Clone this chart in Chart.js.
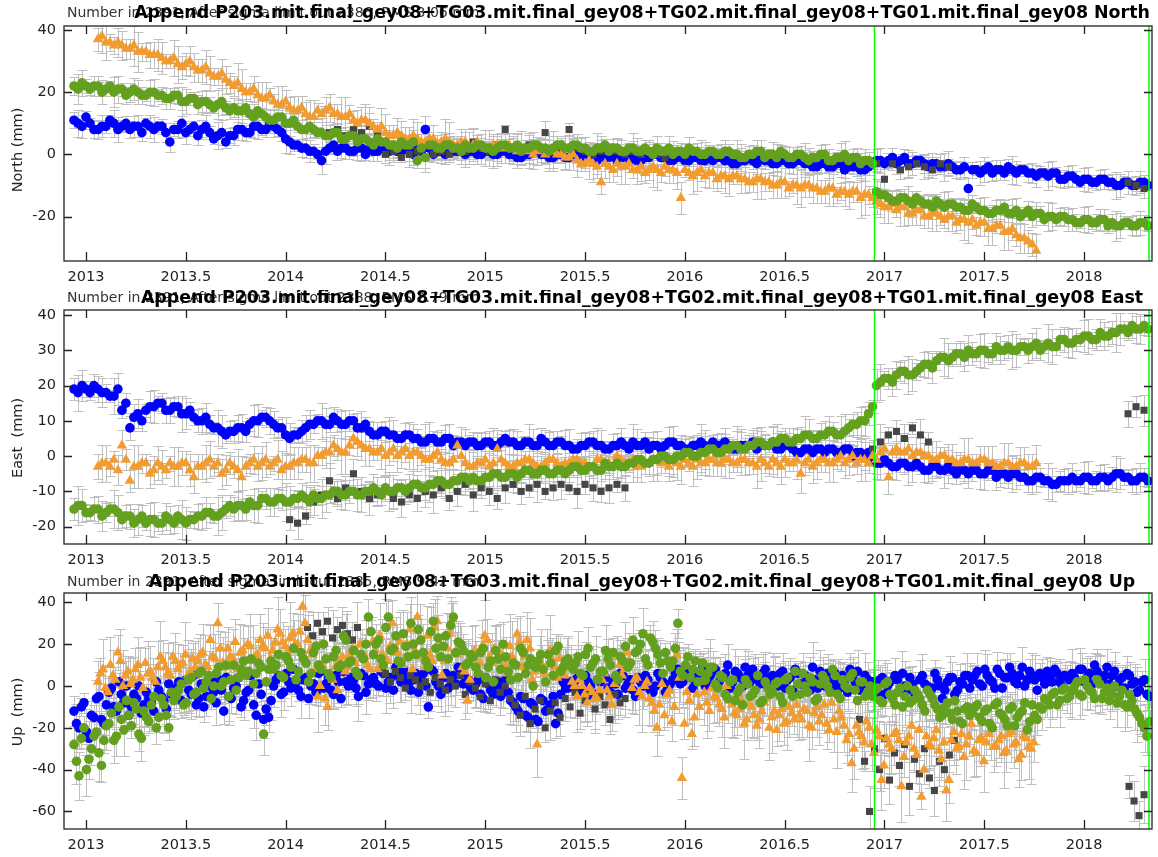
<!DOCTYPE html>
<html>
<head>
<meta charset="utf-8">
<script src="https://cdn.jsdelivr.net/npm/chart.js@4.4.1/dist/chart.umd.min.js"></script>
<style>
  body { margin: 0; background: #fff; width: 1158px; height: 857px; overflow: hidden; position: relative; }
  canvas { position: absolute; left: 0; }
</style>
</head>
<body>
<canvas id="cNorth" width="1158" height="290" style="top:0px"></canvas>
<canvas id="cEast" width="1158" height="283" style="top:290px"></canvas>
<canvas id="cUp" width="1158" height="284" style="top:573px"></canvas>
<script>
// ── 共通の軸・時刻 ─────────────────────────────────────
const xTicks = [2013, 2013.5, 2014, 2014.5, 2015, 2015.5, 2016, 2016.5, 2017, 2017.5, 2018];
const xMin = 2012.89, xMax = 2018.34;
const breakEpochs = [2016.95, 2018.325];
const stepNE = 0.04;    // North / East sampling (yr); 2nd set offset by half a step
const stepUp = 0.025;   // Up sampling (yr); 2nd set offset by half a step
const blueStart = 2012.94, greenStart = 2012.94, orangeStart = 2013.06;

const northTicks = [-20, 0, 20, 40];
const eastTicks = [-20, -10, 0, 10, 20, 30, 40];
const upTicks = [-60, -40, -20, 0, 20, 40];

// ── North (mm) ────────────────────────────────────────
const northBlue = [
  11, 9, 10, 8, 9, 10, 9, 8, 9, 10, 8, 9, 4, 8, 7, 9, 8, 7, 6, 4,
  6, 8, 7, 9, 8, 9, 7, 4, 3, 2, 1, -2, 2, 1, 2, 1, 2, 2, 1, 2,
  2, 1, 1, 2, 8, 0, 1, 2, 1, 0, 1, 0, 1, 0, 1, 0, -1, 0, 1, 0,
  -1, 0, -1, 0, -1, -1, 0, -1, -2, -1, -1, -2, -1, 0, -1, -2, -1, -2, -1, -2,
  -2, -1, -2, -3, -2, -2, -1, -2, -3, -2, -3, -2, -3, -4, -3, -4, -3, -4, -4, -5,
  -3, -2, -2, -3, -1, -3, -2, -4, -3, -4, -4, -5, -11, -5, -5, -6, -5, -4, -6, -5,
  -6, -6, -7, -6, -8, -7, -9, -8, -9, -8, -9, -10, -9, -10, -9
];
const northBlueB = [
  10, 12, 8, 9, 11, 8, 10, 9, 7, 9, 9, 7, 8, 10, 8, 6, 9, 5, 7, 6,
  8, 7, 9, 8, 10, 8, 5, 3, 2, 1, 0, 1, 3, 2, 1, 2, 0, 1, 2, 1,
  1, 2, 0, 1, 2, 1, 0, 1, 2, 1, 0, 1, 0, 1, 0, -1, 0, 1, 0, -1,
  0, -1, 0, -1, 0, -2, -1, 0, -1, -2, -2, -1, 0, -1, -2, -1, -2, -1, -2, -1,
  -1, -2, -3, -2, -1, -3, -2, -3, -2, -3, -2, -3, -4, -3, -4, -3, -5, -4, -5, -4,
  -2, -3, -1, -2, -3, -2, -3, -3, -4, -3, -5, -4, -5, -6, -4, -5, -6, -5, -5, -6,
  -7, -6, -6, -8, -7, -8, -8, -9, -8, -9, -10, -9, -10, -9, -10
];
const northGreen = [
  22, 23, 21, 22, 21, 20, 21, 20, 20, 19, 20, 19, 18, 19, 17, 18, 17, 16, 16, 15,
  15, 14, 13, 14, 12, 11, 12, 10, 9, 8, 8, 7, 6, 7, 5, 6, 5, 4, 5, 4,
  3, 4, 3, -2, -1, 3, 2, 3, 2, 3, 2, 3, 2, 2, 3, 2, 1, 2, 3, 2,
  2, 3, 2, 3, 2, 1, 2, 1, 2, 1, 2, 1, 1, 2, 1, 0, 1, 2, 1, 0,
  1, 0, 1, 0, -1, 0, 1, 0, -1, 0, -1, 0, -2, -1, 0, -2, -1, -2, -1, -2,
  -3, -13, -14, -15, -14, -16, -15, -16, -15, -17, -16, -17, -18, -17, -18, -19, -18, -19, -18, -19,
  -20, -19, -20, -21, -20, -21, -22, -21, -22, -21, -22, -23, -22, -23, -22
];
const northGreenB = [
  21, 22, 22, 20, 22, 21, 19, 21, 19, 20, 19, 18, 19, 17, 18, 16, 17, 15, 17, 14,
  14, 15, 12, 13, 11, 12, 10, 11, 8, 9, 7, 6, 7, 5, 6, 4, 5, 3, 4, 3,
  2, 3, 4, 2, 3, 2, 3, 2, 1, 2, 3, 2, 1, 3, 2, 3, 2, 3, 2, 1,
  3, 2, 3, 2, 1, 2, 3, 2, 1, 2, 1, 2, 0, 1, 2, 1, 0, 1, 0, 1,
  0, 1, 0, -1, 0, 1, -1, 0, 1, -1, 0, -1, -1, 0, -2, -1, 0, -1, -3, -2,
  -12, -13, -15, -14, -15, -14, -16, -17, -16, -16, -17, -18, -16, -18, -19, -18, -17, -19, -20, -18,
  -19, -21, -20, -20, -21, -22, -21, -22, -21, -23, -23, -22, -23, -22, -23
];
const northOrange = [
  37, 36, 35, 35, 34, 33, 33, 32, 31, 30, 29, 29, 28, 27, 26, 25, 24, 22, 21, 20,
  19, 18, 17, 16, 15, 14, 13, 12, 13, 15, 13, 12, 11, 11, 10, 8, 7, 6, 6, 5,
  5, 4, 5, 4, 4, 3, 4, 3, 3, 2, 3, 2, 2, 2, 1, 1, 0, 1, 0, -1,
  -2, -3, -3, -9, -4, -3, -4, -5, -4, -5, -5, -4, -5, -14, -6, -6, -7, -6, -7, -8,
  -7, -8, -9, -8, -9, -10, -9, -10, -11, -10, -11, -12, -11, -12, -13, -12, -13, -14, -16, -17,
  -18, -17, -19, -18, -20, -19, -21, -20, -21, -22, -23, -22, -24, -23, -25, -26, -27, -29
];
const northOrangeB = [
  38, 36, 36, 34, 35, 33, 32, 32, 30, 31, 28, 30, 27, 28, 25, 26, 23, 23, 20, 21,
  18, 19, 16, 17, 14, 15, 12, 14, 14, 13, 12, 13, 10, 11, 9, 9, 6, 7, 5, 6,
  4, 5, 3, 5, 3, 4, 2, 4, 2, 3, 2, 3, 1, 2, 0, 2, 1, 0, -1, 0,
  -3, -2, -4, -3, -5, -4, -3, -5, -6, -4, -6, -5, -6, -5, -7, -5, -6, -8, -7, -7,
  -8, -9, -8, -9, -10, -9, -11, -10, -10, -11, -12, -11, -13, -12, -12, -14, -13, -15, -17, -16,
  -17, -19, -18, -20, -19, -20, -20, -22, -21, -21, -22, -24, -23, -25, -24, -27, -28, -31
];
const northGray = [
  [2014.22, [7, 8, 6, 8, 7, 9, 6, 0, 1, -1, 0, 1, -1, 0, 1, 0,
             2, 1, 4, 2, 1, 3, 8, 2, 1, 3, 2, 7, 1, 2, 8, 2, 1, 0, 1, 2, 1, 0, 1, 0, 1, 0, -1]],
  [2016.96, [-3, -8, -3, -5, -4, -3, -4, -5, -3, -4]],
  [2018.22, [-9, -10, -11]]
];

// ── East (mm) ─────────────────────────────────────────
const eastBlue = [
  19, 20, 18, 19, 18, 17, 13, 8, 12, 13, 14, 15, 13, 14, 12, 11, 10, 9, 8, 6,
  7, 8, 9, 10, 11, 9, 8, 5, 6, 8, 9, 10, 9, 10, 9, 10, 8, 7, 6, 7,
  6, 5, 6, 5, 4, 5, 4, 5, 4, 3, 4, 3, 4, 3, 5, 4, 3, 4, 3, 4,
  3, 4, 3, 2, 3, 4, 3, 2, 3, 3, 4, 3, 2, 3, 3, 4, 3, 2, 3, 3,
  4, 3, 3, 2, 3, 4, 3, 3, 2, 3, 2, 1, 2, 2, 1, 2, 1, 2, 1, 0,
  -1, -2, -2, -3, -2, -3, -3, -4, -3, -4, -4, -3, -5, -4, -5, -4, -5, -6, -5, -6,
  -7, -6, -7, -8, -7, -6, -7, -6, -7, -6, -6, -5, -6, -7, -6
];
const eastBlueB = [
  18, 19, 20, 18, 17, 19, 15, 11, 10, 14, 15, 13, 14, 12, 13, 10, 11, 8, 7, 7,
  8, 7, 10, 11, 10, 8, 6, 6, 7, 9, 10, 9, 11, 9, 10, 8, 9, 6, 7, 6,
  5, 6, 5, 4, 5, 4, 5, 3, 4, 4, 3, 4, 3, 4, 4, 3, 4, 3, 5, 3,
  4, 3, 2, 3, 4, 3, 2, 3, 4, 2, 3, 4, 3, 2, 4, 3, 2, 3, 4, 2,
  3, 4, 2, 3, 3, 2, 3, 4, 2, 3, 1, 2, 1, 2, 2, 1, 2, 0, 1, 1,
  -2, -1, -3, -2, -3, -2, -4, -3, -4, -3, -5, -4, -4, -5, -4, -6, -5, -5, -6, -7,
  -6, -7, -8, -7, -7, -7, -6, -7, -6, -7, -5, -6, -7, -6, -7
];
const eastGreen = [
  -15, -14, -16, -15, -16, -15, -18, -17, -18, -19, -18, -19, -18, -17, -19, -18, -17, -16, -17, -15,
  -15, -14, -13, -14, -12, -13, -12, -13, -12, -12, -11, -12, -11, -10, -11, -10, -11, -10, -10, -9,
  -10, -9, -9, -8, -9, -8, -7, -8, -7, -6, -6, -7, -6, -5, -6, -5, -5, -4, -5, -4,
  -5, -4, -4, -3, -4, -3, -4, -3, -2, -3, -2, -1, -2, -1, 0, -1, 0, 1, 0, 1,
  2, 1, 2, 3, 2, 3, 4, 3, 4, 5, 4, 5, 6, 5, 6, 7, 6, 8, 9, 10,
  14, 21, 22, 23, 24, 23, 25, 26, 27, 28, 28, 29, 30, 29, 30, 29, 30, 31, 30, 31,
  31, 30, 32, 31, 33, 32, 33, 34, 33, 34, 35, 36, 35, 36, 37
];
const eastGreenB = [
  -14, -16, -15, -17, -15, -16, -17, -19, -17, -18, -19, -17, -19, -18, -18, -17, -16, -17, -16, -14,
  -14, -15, -14, -12, -13, -12, -13, -12, -11, -13, -12, -11, -10, -11, -10, -11, -10, -9, -11, -10,
  -9, -10, -8, -9, -8, -7, -8, -7, -6, -7, -7, -6, -5, -6, -5, -6, -4, -5, -4, -5,
  -4, -5, -3, -4, -3, -4, -2, -3, -3, -2, -1, -2, -1, 0, -1, 0, 1, 0, 1, 2,
  1, 2, 3, 2, 3, 4, 3, 4, 5, 4, 5, 6, 5, 6, 7, 6, 7, 9, 10, 12,
  20, 22, 21, 24, 23, 24, 26, 25, 28, 27, 29, 28, 29, 30, 29, 31, 30, 30, 31, 30,
  32, 31, 31, 33, 32, 33, 34, 33, 35, 34, 35, 36, 37, 36, 36
];
const eastOrange = [
  -3, -2, -1, 3, -7, -3, -2, -4, -3, -2, -3, -2, -6, -3, -1, -2, -4, -3, -6, -2,
  -3, -1, -2, -4, -3, -2, -1, -2, 0, 1, 2, 1, 5, 3, 2, 1, 0, 2, 1, 0,
  1, -1, 0, -1, -2, 3, -2, -3, -2, -3, 2, -2, -3, -2, -1, -3, -2, -1, -3, -2,
  -1, -2, -3, -1, -2, 0, -2, -1, -3, -2, -1, -2, -1, -3, -2, -1, -2, -1, -2, -1,
  -2, -1, -2, -1, -3, -2, -1, -2, -5, -1, -2, -1, -2, 0, -1, -2, -1, 0, 1, -6,
  2, 1, 0, 1, 0, -1, 0, -1, -2, -1, -2, -1, -2, -3, -2, -3, -2, -3
];
const eastOrangeB = [
  -2, -3, -4, -1, -3, -2, -5, -2, -4, -3, -2, -4, -3, -2, -3, -5, -2, -4, -3, -1,
  -2, -3, -1, -3, -2, -1, -2, 0, 1, 3, 1, 3, 4, 2, 1, 2, 1, 0, 2, 1,
  0, -1, 1, -2, -1, 0, -3, -2, -1, -2, -1, -3, -2, -1, -2, -3, -1, -2, -2, -1,
  -2, -3, -1, -2, -3, -1, -2, -3, -2, -1, -2, -3, -2, -1, -3, -2, -1, -2, -1, -2,
  -1, -2, -3, -2, -1, -3, -2, -1, -2, -3, -1, -2, -1, -2, 0, -1, -2, -1, 2, 1,
  1, 2, 1, 0, -1, 0, -1, -2, -1, -2, -1, -2, -3, -2, -3, -2, -3, -2
];
const eastGray = [
  [2014.02, [-18, -19, -17, -13, -11, -7, -12, -9, -5, -10,
             -12, -11, -9, -12, -13, -11, -12, -10, -11, -9,
             -12, -10, -8, -11, -9, -10, -12, -9, -8, -10,
             -9, -8, -10, -9, -8, -9, -10, -8, -9, -10,
             -9, -8, -9]],
  [2016.94, [2, 4, 6, 7, 5, 8, 6, 4]],
  [2018.22, [12, 14, 13]]
];

// ── Up (mm) ───────────────────────────────────────────
const upBlue = [
  -12, -20, -8, -25, -15, -5, -18, -3, -10, 2, -8, -14, -4, 0, -9, -6, -12, -2, -7, 1,
  -4, 2, -8, -2, 5, -6, -10, 0, -3, 3, -12, -5, -1, 4, -7, -2, -9, 1, -16, -15,
  0, 5, -3, 2, 8, -2, 3, -6, 1, 6, -1, 4, -4, 2, 7, 0, 3, -5, 5, 1,
  4, 0, 6, 2, -2, 5, 8, 1, 3, -3, 6, -10, 7, 0, 4, -1, 5, 9, 1, 3,
  -2, 3, -6, 1, -4, 2, -1, -3, -8, -12, -6, -15, -9, -17, -7, -11, -5, -13, 2, -1,
  0, 4, -3, 2, -5, 3, 6, -1, 2, -4, 5, 1, -2, 4, 0, 3, -3, 6, 2, -1,
  3, 8, 2, 6, -1, 5, 9, 3, 7, 1, 4, 10, 2, 6, 0, 5, 8, 3, 6, 2,
  5, 0, 7, 3, -2, 6, 1, 4, 9, -1, 3, 6, 0, 2, 5, -3, 4, 7, 1, 3,
  2, -3, 4, 0, -5, 3, 6, -2, 1, -4, 5, 0, -1, 3, -6, 2, 4, -2, 1, 5,
  3, 7, 0, 5, 2, 8, -1, 4, 6, 1, 9, 3, 5, -2, 4, 7, 2, 6, 0, 4,
  6, 2, 8, 4, 1, 7, 3, 9, 5, 0, 4, 6, 1, -3, 2, -4
];
const upBlueB = [
  -18, -10, -22, -14, -6, -16, -9, -1, -12, -4, 0, -10, -6, -13, -3, -8, 2, -5, -11, -4,
  -1, -7, 3, -4, -9, 1, -5, 2, -8, -2, 4, -6, 0, -10, -3, 5, -14, -4, -11, -7,
  3, -4, 6, -1, 2, -5, 4, 0, -3, 7, 1, -2, 5, -6, 2, 4, -1, 6, -3, 3,
  1, 7, -1, 4, 9, 2, 5, -2, 6, 3, 0, 8, 2, -4, 6, 3, 1, 7, 4, -1,
  1, -4, 4, -2, 0, -5, 3, -7, -10, -5, -14, -8, -16, -6, -12, -9, -18, -4, -1, 2,
  3, -2, 5, 0, -4, 2, 4, -3, 1, 6, -1, 3, -5, 2, 5, -2, 0, 4, -3, 1,
  6, 1, 9, 4, 2, 7, 0, 5, 8, 3, 6, -1, 7, 4, 9, 2, 5, 1, 8, 4,
  2, 6, -1, 4, 8, 1, 5, -2, 3, 7, 0, 4, 6, -1, 3, 8, 2, -2, 5, 1,
  -1, 3, -4, 2, 5, -2, 0, 4, -5, 3, 1, -3, 6, 0, -2, 4, -4, 2, 5, -1,
  5, 1, 8, 3, -1, 6, 4, 9, 2, 5, 0, 7, 3, 6, 1, 4, 8, 2, 5, 3,
  4, 8, 2, 6, 10, 3, 5, 1, 7, 3, -1, 5, 2, -2, 3, -5
];
const upGreen = [
  -28, -43, -20, -35, -24, -32, -26, -18, -26, -10, -21, -14, -8, -23, -12, -17, -5, -15, -9, -20,
  -7, -2, -9, 3, -4, 6, -1, 5, 0, 9, 2, -5, 10, 4, 12, 7, 1, 11, -23, 8,
  8, 15, 4, 12, 18, 7, 13, 2, 16, 10, 20, 6, 14, 9, 24, 11, 17, 5, 13, 33,
  15, 22, 10, 33, 18, 12, 25, 14, 20, 27, 16, 9, 31, 23, 19, 13, 33, 21, 17, 11,
  14, 6, 18, 9, 2, 13, 20, 7, 11, 4, 16, 10, 0, 12, 8, 15, 5, 19, 9, 13,
  8, 14, 5, 18, 11, 3, 7, 13, 16, 3, 12, 9, 22, 17, 25, 10, 21, 15, 6, 12,
  12, 30, 5, 14, 8, 2, 11, 6, 9, -1, 4, -6, 3, -3, -9, 1, -4, 5, -7, -1,
  -3, 2, -8, 4, -5, 1, 6, -3, 2, -6, 5, 0, 8, -4, 3, -1, 6, -7, 2, -3,
  -5, -1, -8, 2, -6, -3, -10, 0, -7, -4, -9, -2, -6, -11, -14, -8, -16, -12, -18, -10,
  -13, -9, -17, -11, -20, -8, -14, -19, -10, -15, -12, -21, -9, -16, -11, -7, -4, -9, -2, -6,
  -2, 2, -5, 0, -3, 3, -6, -1, -4, -8, -2, -10, -7, -13, -18, -24
];
const upGreenB = [
  -36, -25, -40, -30, -22, -38, -19, -13, -24, -16, -7, -19, -11, -25, -15, -9, -20, -6, -14, -3,
  -5, 1, -8, 4, -3, 7, 2, -6, 6, 0, 10, 3, -2, 8, 5, 13, 6, 9, 2, 12,
  10, 5, 14, 9, 3, 16, 11, 6, 19, 8, 13, 4, 17, 10, 22, 12, 7, 15, 20, 26,
  20, 13, 28, 17, 24, 11, 19, 30, 15, 22, 12, 26, 18, 14, 24, 29, 16, 20, 10, 15,
  9, 16, 4, 12, 17, 8, 14, 3, 10, 18, 6, 13, 9, 15, 2, 11, 17, 7, 12, 10,
  11, 6, 15, 9, 13, 7, 17, 10, 5, 14, 19, 11, 16, 20, 13, 23, 18, 11, 16, 9,
  18, 7, 10, 4, 12, 7, 3, 9, 1, 5, -4, 2, -7, -1, 3, -5, -2, -8, 2, -4,
  1, -5, 3, -2, 7, -4, 0, 4, -7, 1, 3, -3, 5, -6, 0, 4, -2, 2, -5, 0,
  -2, -7, 1, -4, -9, -1, -5, -8, -2, -6, -12, -4, -9, -15, -10, -13, -7, -17, -11, -14,
  -10, -15, -12, -18, -9, -13, -16, -11, -19, -13, -8, -17, -14, -10, -6, -9, -3, -7, -1, -5,
  0, -4, 3, -2, -6, 1, -3, -7, 0, -5, -9, -4, -11, -15, -20, -17
];
const upOrange = [
  2, 8, -3, 5, 16, 0, 7, 3, 10, -1, 6, 4, 9, 12, 6, 14, 8, 11, 5, 13,
  12, 16, 9, 14, 30, 11, 18, 13, 8, 17, 20, 12, 15, 19, 24, 17, 27, 21, 16, 25,
  20, 38, 22, 15, -5, 10, -10, 3, -2, 14, 9, 18, 6, 13, 10, 21, 8, 15, 12, 30,
  16, 10, 20, 8, 33, 14, 24, 12, 31, 5, 18, 32, 15, 9, -7, 13, 6, 19, 22, 11,
  12, 8, 6, 14, 25, 9, 22, 3, -28, 10, 15, 13, 4, 8, 11, 2, -5, 0, -8, -3,
  -6, 3, -2, -9, 14, 5, 16, -1, 4, -5, 2, -8, -20, 1, -4, -17, 15, -44, -3, -23,
  -4, 2, -8, -1, -6, -11, 0, -9, -14, -7, -16, -10, -19, -12, -6, -15, -21, -11, -17, -13,
  -9, -16, -12, -20, -10, -14, -18, -8, -22, -15, -26, -37, -19, -24, -17, -28, -21, -45, -25, -30,
  -22, -48, -27, -19, -33, -53, -24, -29, -21, -35, -50, -26, -30, -23, -28, -18, -32, -25, -27, -20,
  -29, -24, -31, -22, -27, -33, -25, -30
];
const upOrangeB = [
  6, -1, 10, 3, 12, 5, 1, 8, 4, 11, 7, 2, 14, 9, 5, 12, 10, 15, 7, 9,
  15, 10, 22, 13, 18, 9, 14, 21, 16, 12, 19, 14, 22, 18, 13, 21, 25, 19, 23, 20,
  26, 30, 17, 8, 0, -6, 5, 9, 12, 7, 15, 11, 20, 14, 8, 17, 24, 13, 19, 16,
  21, 13, 27, 17, 22, 9, 15, 28, 19, 12, 25, 16, 20, 7, 3, 17, 11, 24, 14, 18,
  16, 10, 19, 11, 21, 14, 18, 7, 12, 6, 17, 9, 13, 5, 9, 0, 3, -4, -1, -6,
  -2, 6, -5, 1, 10, 8, 12, 3, -3, 0, -6, -12, -9, -14, -2, -10, 4, -18, -7, -15,
  -10, -3, -12, -5, -9, -15, -7, -13, -11, -18, -9, -14, -16, -8, -20, -12, -14, -18, -10, -16,
  -14, -11, -19, -13, -17, -9, -21, -16, -12, -19, -23, -30, -22, -27, -20, -32, -24, -38, -28, -23,
  -26, -34, -24, -30, -21, -40, -28, -25, -31, -27, -45, -22, -29, -34, -24, -31, -26, -36, -23, -29,
  -26, -32, -23, -28, -35, -24, -29, -27
];
const upGray = [
  [2014.11, [28, 24, 30, 26, 31, 23, 27, 29, 25, 22, 28]],
  [2014.50, [6, 2, 7, 4, -1, 5, 3, 0, 2, -3, 4, 1, -2, 3, 0, 5, -4, 2, -1,
             -5, 1, -7, 3, -3, 0, -6, -9, -14, -5, -18, -11, -7, -20, -12, -8, -15,
             -6, -10, -3, -13, -7, -2, -11, -5, -9, -16, -4, -8, -6]],
  [2016.875, [-16, -36, -60, -30, -40, -25, -45, -32, -38, -28, -48, -35, -42, -30, -44, -50, -36, -40, -33, -26]],
  [2018.225, [-48, -55, -62, -52]]
];

// 誤差 (1σ, mm)  blue, gray, orange, green
const northSigma = [2.6, 2.6, 3.8, 2.8];
const eastSigma = [3, 3, 3.6, 3.2];
const upSigma = [7, 8, 10, 8];
// 1点ごとの誤差のばらつき (倍率, 順に繰り返す)
const errSpread = [1.0, 1.45, 0.7, 1.2, 0.85, 1.7, 0.75, 1.1, 1.35, 0.6, 1.55, 0.95, 1.25];

// ── 表示設定 ──────────────────────────────────────────
const titleBase = 'Append P203.mit.final_gey08+TG03.mit.final_gey08+TG02.mit.final_gey08+TG01.mit.final_gey08 ';
const FONT = '"DejaVu Sans", "Liberation Sans", sans-serif';
const colors = { blue: '#0000ff', gray: '#464646', orange: '#f29b2f', green: '#63a01e', err: '#bfbfbf' };

const panels = [
  { id: 'cNorth', comp: 'North', yLabel: 'North (mm)', note: 'Number in 2391, After sigma limit out 2386, RMS 3.06 mm',
    min: -34.3, max: 41.3, ticks: northTicks, step: stepNE,
    blue: [northBlue, northBlueB], gray: northGray, orange: [northOrange, northOrangeB], green: [northGreen, northGreenB],
    sigma: northSigma, padTop: 26, axisH: 29, titleY: 13, yLabelY: 150 },
  { id: 'cEast', comp: 'East', yLabel: 'East  (mm)', note: 'Number in 2391, After sigma limit out 2388, RMS 2.79 mm',
    min: -24.9, max: 41.4, ticks: eastTicks, step: stepNE,
    blue: [eastBlue, eastBlueB], gray: eastGray, orange: [eastOrange, eastOrangeB], green: [eastGreen, eastGreenB],
    sigma: eastSigma, padTop: 20, axisH: 29, titleY: 8, yLabelY: 148 },
  { id: 'cUp', comp: 'Up', yLabel: 'Up  (mm)', note: 'Number in 2391, After sigma limit out 2385, RMS 9.42 mm',
    min: -68.4, max: 44.5, ticks: upTicks, step: stepUp,
    blue: [upBlue, upBlueB], gray: upGray, orange: [upOrange, upOrangeB], green: [upGreen, upGreenB],
    sigma: upSigma, padTop: 20, axisH: 28, titleY: 9, yLabelY: 139 },
];

function toPoints(start, step, vals) {
  return vals.map((v, i) => ({ x: start + i * step, y: v }));
}
// 2組目は半ステップずらして並べる
function seriesPoints(start, step, sets) {
  return sets.flatMap((vals, k) => toPoints(start + k * step / 2, step, vals));
}
function segPoints(segs, step) {
  return segs.flatMap(([start, vals]) => toPoints(start, step, vals));
}

// タイトル幅を原図に合わせる
const measureCtx = document.createElement('canvas').getContext('2d');
measureCtx.font = 'bold 100px ' + FONT;
const titleSize = 100 * 1016 / measureCtx.measureText(titleBase + 'North').width;

// ── プラグイン: 誤差棒・枠・内向き目盛・タイトル ──────
const framePlugin = {
  id: 'frame',
  beforeDatasetsDraw(chart) {
    const { ctx, chartArea: a, scales: { x, y } } = chart;
    ctx.save();
    ctx.beginPath();
    ctx.rect(a.left, a.top, a.right - a.left, a.bottom - a.top);
    ctx.clip();
    ctx.strokeStyle = colors.err;
    ctx.lineWidth = 1;
    chart.data.datasets.forEach(ds => {
      ctx.beginPath();
      ds.data.forEach((p, i) => {
        const s = ds.sigma * errSpread[i % errSpread.length];
        const px = Math.round(x.getPixelForValue(p.x)) + 0.5;
        const y1 = Math.round(y.getPixelForValue(p.y + s)) + 0.5;
        const y2 = Math.round(y.getPixelForValue(p.y - s)) + 0.5;
        ctx.moveTo(px, y1); ctx.lineTo(px, y2);
        ctx.moveTo(px - 5, y1); ctx.lineTo(px + 5, y1);
        ctx.moveTo(px - 5, y2); ctx.lineTo(px + 5, y2);
      });
      ctx.stroke();
    });
    ctx.restore();
  },
  afterDatasetsDraw(chart) {
    const { ctx, chartArea: a, scales: { x, y } } = chart;
    const p = chart.options.plugins.frame;
    ctx.save();
    // 変化点
    ctx.strokeStyle = '#00ff00';
    ctx.lineWidth = 1.5;
    breakEpochs.forEach(t => {
      const px = x.getPixelForValue(t);
      ctx.beginPath(); ctx.moveTo(px, a.top); ctx.lineTo(px, a.bottom); ctx.stroke();
    });
    // 枠と目盛
    ctx.strokeStyle = '#222';
    ctx.lineWidth = 1.3;
    ctx.strokeRect(a.left, a.top, a.right - a.left, a.bottom - a.top);
    ctx.beginPath();
    xTicks.forEach(t => {
      const px = Math.round(x.getPixelForValue(t)) + 0.5;
      ctx.moveTo(px, a.bottom); ctx.lineTo(px, a.bottom - 9);
      ctx.moveTo(px, a.top); ctx.lineTo(px, a.top + 8);
    });
    p.yTicks.forEach(t => {
      const py = Math.round(y.getPixelForValue(t)) + 0.5;
      ctx.moveTo(a.left, py); ctx.lineTo(a.left + 8, py);
      ctx.moveTo(a.right, py); ctx.lineTo(a.right - 8, py);
    });
    ctx.stroke();
    ctx.restore();
  },
  afterDraw(chart) {
    const { ctx } = chart;
    const p = chart.options.plugins.frame;
    ctx.save();
    ctx.textBaseline = 'middle';
    ctx.textAlign = 'left';
    ctx.fillStyle = '#333';
    ctx.font = '14px ' + FONT;
    ctx.fillText(p.note, 67, p.titleY);
    ctx.textAlign = 'center';
    ctx.fillStyle = '#000';
    ctx.font = 'bold ' + titleSize.toFixed(2) + 'px ' + FONT;
    ctx.fillText(titleBase + p.comp, 642, p.titleY);
    // 縦軸名
    ctx.translate(18, p.yLabelY);
    ctx.rotate(-Math.PI / 2);
    ctx.fillStyle = '#222';
    ctx.font = '14.5px ' + FONT;
    ctx.fillText(p.yLabel, 0, 0);
    ctx.restore();
  }
};

// ── 描画 ──────────────────────────────────────────────
panels.forEach(pn => {
  const mk = (label, data, color, style, radius, sigma, order) => ({
    label, data, sigma, order,
    pointStyle: style,
    pointRadius: radius,
    pointBackgroundColor: color,
    pointBorderColor: color,
    pointBorderWidth: 0,
    showLine: false,
  });
  const datasets = [
    mk('blue', seriesPoints(blueStart, pn.step, pn.blue), colors.blue, 'circle', 4.8, pn.sigma[0], 4),
    mk('gray', segPoints(pn.gray, pn.step), colors.gray, 'rect', 5, pn.sigma[1], 3),
    mk('orange', seriesPoints(orangeStart, pn.step, pn.orange), colors.orange, 'triangle', 6, pn.sigma[2], 2),
    mk('green', seriesPoints(greenStart, pn.step, pn.green), colors.green, 'circle', 4.8, pn.sigma[3], 1),
  ];

  new Chart(document.getElementById(pn.id), {
    type: 'scatter',
    data: { datasets },
    options: {
      responsive: false,
      animation: false,
      events: [],
      layout: { padding: { top: pn.padTop, right: 4, left: 0, bottom: 0 } },
      plugins: {
        legend: { display: false },
        tooltip: { enabled: false },
        frame: { note: pn.note, comp: pn.comp, titleY: pn.titleY, yLabel: pn.yLabel,
                 yLabelY: pn.yLabelY, yTicks: pn.ticks }
      },
      scales: {
        x: {
          type: 'linear', min: xMin, max: xMax,
          grid: { display: false, drawTicks: false },
          border: { display: false },
          afterBuildTicks: s => { s.ticks = xTicks.map(v => ({ value: v })); },
          afterFit: s => { s.height = pn.axisH; },
          ticks: { autoSkip: false, maxRotation: 0, padding: 8, color: '#222',
                   font: { family: FONT, size: 14.5 }, callback: v => String(v) }
        },
        y: {
          type: 'linear', min: pn.min, max: pn.max,
          grid: { display: false, drawTicks: false },
          border: { display: false },
          afterBuildTicks: s => { s.ticks = pn.ticks.map(v => ({ value: v })); },
          afterFit: s => { s.width = 64; },
          ticks: { autoSkip: false, padding: 8, color: '#222',
                   font: { family: FONT, size: 14.5 }, callback: v => String(v) }
        }
      }
    },
    plugins: [framePlugin]
  });
});
</script>
</body>
</html>
